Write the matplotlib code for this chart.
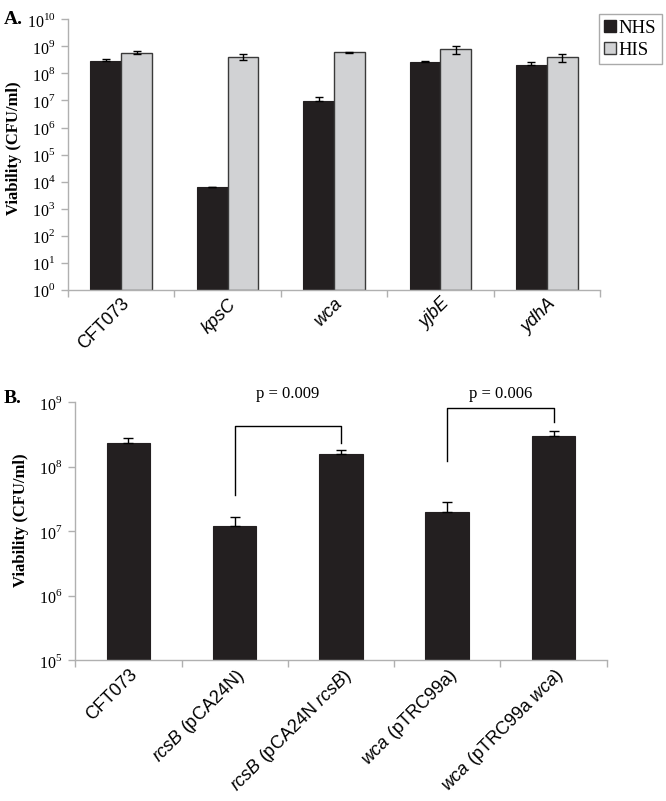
import matplotlib
matplotlib.use('Agg')
import matplotlib.pyplot as plt
import numpy as np
from matplotlib.patches import Patch

plt.rcParams['mathtext.fontset'] = 'custom'
plt.rcParams['mathtext.rm'] = 'Liberation Serif'
plt.rcParams['mathtext.it'] = 'Liberation Sans:italic'
plt.rcParams['mathtext.bf'] = 'Liberation Serif:bold'

# ---- Panel A data ----
strainsA = ['CFT073', 'kpsC', 'wca', 'yjbE', 'ydhA']
italicA = [False, True, True, True, True]
nhs = [2.8e8, 6.1e3, 9.8e6, 2.7e8, 2.1e8]
nhs_err = [5e7, 5e2, 3.7e6, 2e7, 6e7]
his = [5.9e8, 4.1e8, 6.1e8, 7.9e8, 3.9e8]
his_err = [7e7, 1e8, 3e7, 2.5e8, 1.3e8]
ticksA = [0, 1, 2, 3, 4, 5, 6, 7, 8, 9, 10]

# ---- Panel B data ----
strainsB = ['CFT073',
            r'$\mathit{rcsB}$ (pCA24N)',
            r'$\mathit{rcsB}$ (pCA24N $\mathit{rcsB}$)',
            r'$\mathit{wca}$ (pTRC99a)',
            r'$\mathit{wca}$ (pTRC99a $\mathit{wca}$)']
viab = [2.35e8, 1.2e7, 1.56e8, 1.96e7, 3.0e8]
viab_err = [4.5e7, 4.5e6, 2.4e7, 9e6, 5e7]
ticksB = [5, 6, 7, 8, 9]
# brackets: (left idx, right idx, top, left leg bottom, right leg bottom, text)
brackets = [(1, 2, 4.3e8, 3.6e7, 2.36e8, 'p = 0.009'),
            (3, 4, 8.0e8, 1.2e8, 4.9e8, 'p = 0.006')]

DARK = '#231f20'
LIGHT = '#d1d2d4'
AXC = '#b0b0b0'
TICK_FS = 11.5

fig = plt.figure(figsize=(6.66, 8.01), dpi=100)

def style_axes(ax, n):
    for s in ['top', 'right']:
        ax.spines[s].set_visible(False)
    for s in ['left', 'bottom']:
        ax.spines[s].set_color(AXC)
        ax.spines[s].set_linewidth(1.0)
    ax.set_xlim(-0.5, n - 0.5)
    ax.set_xticks(np.arange(n))
    ax.set_xticks(np.arange(n + 1) - 0.5, minor=True)
    ax.tick_params(axis='x', which='major', length=0, pad=4)
    ax.tick_params(axis='x', which='minor', length=5, color=AXC, width=1)
    ax.tick_params(axis='y', which='major', length=5, color=AXC, width=1, pad=4)
    ax.tick_params(axis='y', which='minor', length=0)

ekw = dict(ecolor='black', elinewidth=1, capsize=3, capthick=1)

# ---- Panel A ----
axA = fig.add_axes([0.102, 0.638, 0.799, 0.338])
x = np.arange(len(strainsA))
w = 0.29
axA.bar(x - w/2, nhs, w, bottom=1, color=DARK, edgecolor=DARK, linewidth=0.8,
        yerr=[np.zeros(len(nhs_err)), nhs_err], error_kw=ekw, label='NHS')
axA.bar(x + w/2, his, w, bottom=1, color=LIGHT, edgecolor='#3a3a3a', linewidth=1,
        yerr=his_err, error_kw=ekw, label='HIS')
axA.set_yscale('log')
axA.set_ylim(1, 1e10)
axA.set_yticks([10.0**k for k in ticksA])
axA.set_yticklabels([r'$\mathrm{10}^{%d}$' % k for k in ticksA], fontsize=TICK_FS)
style_axes(axA, len(strainsA))
axA.set_xticklabels(strainsA, rotation=45, ha='right', va='top',
                    rotation_mode='anchor', fontsize=13, family='Liberation Sans')
for lab, it in zip(axA.get_xticklabels(), italicA):
    if it:
        lab.set_fontstyle('italic')

fig.legend(handles=[Patch(facecolor=DARK, edgecolor=DARK, label='NHS'),
                    Patch(facecolor=LIGHT, edgecolor='#3a3a3a', label='HIS')],
           loc='upper left', bbox_to_anchor=(0.899, 0.982), frameon=True,
           fancybox=False, edgecolor='#aaaaaa', framealpha=1,
           prop={'family': 'Liberation Serif', 'size': 13.5},
           handlelength=0.6, handleheight=0.6, handletextpad=0.15,
           borderpad=0.3, labelspacing=0.25, borderaxespad=0)

fig.text(0.005, 1 - 24/801, 'A.', fontsize=14, fontweight='bold', family='Liberation Serif', va='baseline')
fig.text(0.021, 0.815, 'Viability (CFU/ml)', rotation=90, fontsize=12, fontweight='bold',
         family='Liberation Serif', ha='center', va='center')

# ---- Panel B ----
axB = fig.add_axes([0.113, 0.176, 0.798, 0.322])
xb = np.arange(len(strainsB))
axB.bar(xb, viab, 0.41, bottom=1e5, color=DARK, edgecolor=DARK, linewidth=0.8,
        yerr=[np.zeros(len(viab_err)), viab_err], error_kw=dict(ekw, capsize=3.5))
axB.set_yscale('log')
axB.set_ylim(1e5, 1e9)
axB.set_yticks([10.0**k for k in ticksB])
axB.set_yticklabels([r'$\mathrm{10}^{%d}$' % k for k in ticksB], fontsize=TICK_FS)
style_axes(axB, len(strainsB))
axB.set_xticklabels(strainsB, rotation=45, ha='right', va='top',
                    rotation_mode='anchor', fontsize=13, family='Liberation Sans')

for i0, i1, top, lb, rb, txt in brackets:
    axB.plot([i0, i0, i1, i1], [lb, top, top, rb], color='black', lw=1, clip_on=False)
    axB.text((i0 + i1) / 2, 1.33e9, txt, ha='center', va='center', fontsize=12,
             family='Liberation Serif', clip_on=False)

fig.text(0.005, 0.497, 'B.', fontsize=14, fontweight='bold', family='Liberation Serif', va='baseline')
fig.text(0.031, 0.35, 'Viability (CFU/ml)', rotation=90, fontsize=12, fontweight='bold',
         family='Liberation Serif', ha='center', va='center')

fig.savefig('out.png', dpi=100)
